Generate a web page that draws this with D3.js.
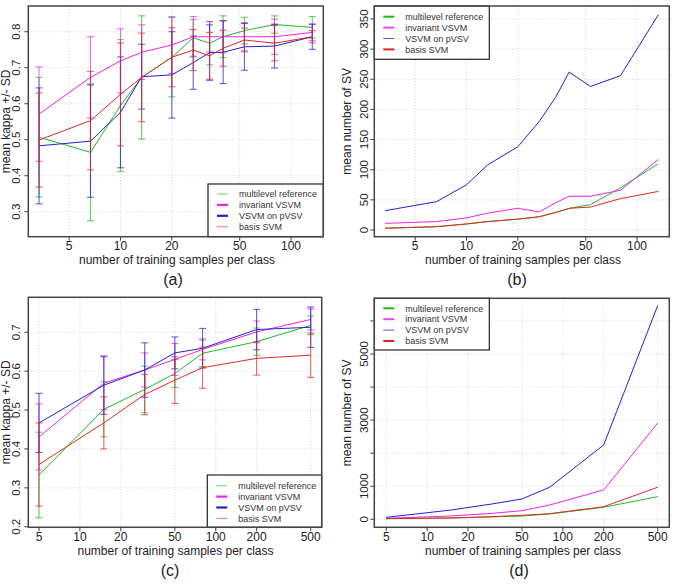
<!DOCTYPE html>
<html>
<head>
<meta charset="utf-8">
<script src="https://cdn.jsdelivr.net/npm/d3@7"></script>
<style>
  body { margin: 0; background: #fff; }
  text { font-family: "Liberation Sans", Arial, sans-serif; fill: #222; }
</style>
</head>
<body>
<script>
// ---- data ----
var seriesNames = ["multilevel reference", "invariant VSVM", "VSVM on pVSV", "basis SVM"];

// x values: samples per class
var xSmall = [3.33, 6.67, 10, 13.3, 20, 26.7, 33.3, 40, 53.3, 80, 133.3];
var xLarge = [5, 15, 30, 50, 80, 200, 500];

// (a) mean kappa and SD
var kappaA_multi    = [0.507, 0.465, 0.595, 0.673, 0.729, 0.783, 0.768, 0.786, 0.803, 0.820, 0.812];
var kappaA_multiSD  = [0.166, 0.190, 0.183, 0.171, 0.110, 0.051, 0.060, 0.058, 0.037, 0.024, 0.030];
var kappaA_inv      = [0.571, 0.673, 0.719, 0.743, 0.763, 0.786, 0.786, 0.786, 0.786, 0.786, 0.798];
var kappaA_invSD    = [0.131, 0.113, 0.089, 0.076, 0.079, 0.056, 0.042, 0.045, 0.039, 0.049, 0.023];
var kappaA_pvsv     = [0.483, 0.496, 0.576, 0.675, 0.680, 0.714, 0.742, 0.743, 0.758, 0.760, 0.786];
var kappaA_pvsvSD   = [0.161, 0.156, 0.154, 0.090, 0.120, 0.074, 0.077, 0.087, 0.065, 0.061, 0.035];
var kappaA_basis    = [0.499, 0.553, 0.626, 0.673, 0.729, 0.749, 0.733, 0.754, 0.777, 0.768, 0.786];
var kappaA_basisSD  = [0.131, 0.137, 0.143, 0.123, 0.082, 0.057, 0.065, 0.050, 0.033, 0.049, 0.017];

// (b) mean number of SV
var svB_multi = [3, 5.5, 10, 14, 18, 22, 29, 36, 42, 70, 110];
var svB_inv   = [11, 14, 20, 28, 36, 30, 45, 56, 56, 66, 117];
var svB_pvsv  = [32, 47, 75, 108, 138, 180, 220, 262, 238, 256, 357];
var svB_basis = [3, 5.5, 10, 14, 18, 22, 29, 36, 38, 52, 64];

// (c) mean kappa and SD
var kappaC_multi    = [0.333, 0.502, 0.553, 0.594, 0.646, 0.676, 0.718];
var kappaC_multiSD  = [0.110, 0.071, 0.060, 0.036, 0.034, 0.035, 0.024];
var kappaC_inv      = [0.431, 0.569, 0.603, 0.630, 0.656, 0.701, 0.733];
var kappaC_invSD    = [0.085, 0.068, 0.044, 0.041, 0.027, 0.028, 0.027];
var kappaC_pvsv     = [0.467, 0.564, 0.603, 0.647, 0.659, 0.707, 0.713];
var kappaC_pvsvSD   = [0.076, 0.075, 0.070, 0.041, 0.051, 0.052, 0.052];
var kappaC_basis    = [0.360, 0.467, 0.540, 0.577, 0.609, 0.633, 0.641];
var kappaC_basisSD  = [0.107, 0.067, 0.052, 0.060, 0.053, 0.043, 0.057];

// (d) mean number of SV
var svD_multi = [20, 40, 70, 100, 160, 364, 685];
var svD_inv   = [30, 100, 180, 260, 433, 888, 2909];
var svD_pvsv  = [60, 280, 463, 615, 970, 2250, 6464];
var svD_basis = [20, 40, 80, 120, 170, 382, 970];

// tick labels
var xTicksSmall = [5, 10, 20, 50, 100];
var xTicksLarge = [5, 10, 20, 50, 100, 200, 500];
var yTicksA = [0.3, 0.4, 0.5, 0.6, 0.7, 0.8];
var yTicksB = [0, 50, 100, 150, 200, 250, 300, 350];
var yTicksC = [0.2, 0.3, 0.4, 0.5, 0.6, 0.7];
var yTicksD = [0, 1000, 2000, 3000, 4000, 5000, 6000];
var yLabelsD = [0, 1000, 3000, 5000];

// ---- styling ----
var colors = ["#22bb22", "#ee22ee", "#2222cc", "#e02828"];
var legendKappa = [{c: "#80dd80", w: 1.2}, {c: "#ee22ee", w: 2.2}, {c: "#2222cc", w: 2.2}, {c: "#f08a8a", w: 1.2}];
var legendSV    = [{c: "#11c011", w: 2}, {c: "#ee44ee", w: 2}, {c: "#5555dd", w: 1}, {c: "#dd2222", w: 2}];

var svg = d3.select("body").append("svg")
    .attr("width", 675)
    .attr("height", 585);

function drawPanel(p) {
  var x = d3.scaleLog().domain(p.xDomain).range([p.left, p.right]);
  var y = d3.scaleLinear().domain(p.yDomain).range([p.bottom, p.top]);
  var g = svg.append("g");

  // grid
  g.selectAll(".vg").data(p.xTicks).enter().append("line")
      .attr("x1", d => x(d)).attr("x2", d => x(d))
      .attr("y1", p.top).attr("y2", p.bottom)
      .attr("stroke", "#d4d4d4").attr("stroke-dasharray", "1,2");
  g.selectAll(".hg").data(p.yTicks).enter().append("line")
      .attr("x1", p.left).attr("x2", p.right)
      .attr("y1", d => y(d)).attr("y2", d => y(d))
      .attr("stroke", "#d4d4d4").attr("stroke-dasharray", "1,2");

  // series
  var line = d3.line().x(d => x(d.x)).y(d => y(d.y));
  p.series.forEach(function(s, i) {
    var pts = p.xs.map((v, k) => ({x: v, y: s.values[k], sd: s.sd ? s.sd[k] : 0}));
    g.append("path").datum(pts)
        .attr("d", line)
        .attr("fill", "none")
        .attr("stroke", colors[i])
        .attr("stroke-width", 1);
    if (s.sd) {
      var eb = g.selectAll(".eb" + i).data(pts).enter().append("g")
          .attr("stroke", colors[i]).attr("stroke-opacity", 0.7).attr("stroke-width", 1.1);
      eb.append("line")
          .attr("x1", d => x(d.x)).attr("x2", d => x(d.x))
          .attr("y1", d => y(d.y - d.sd)).attr("y2", d => y(d.y + d.sd));
      eb.append("line")
          .attr("x1", d => x(d.x) - 3.5).attr("x2", d => x(d.x) + 3.5)
          .attr("y1", d => y(d.y + d.sd)).attr("y2", d => y(d.y + d.sd));
      eb.append("line")
          .attr("x1", d => x(d.x) - 3.5).attr("x2", d => x(d.x) + 3.5)
          .attr("y1", d => y(d.y - d.sd)).attr("y2", d => y(d.y - d.sd));
    }
  });

  // legend
  var L = p.legend;
  var lg = g.append("g");
  lg.append("rect")
      .attr("x", L.x0).attr("y", L.y0)
      .attr("width", L.x1 - L.x0).attr("height", L.y1 - L.y0)
      .attr("fill", "#fff").attr("stroke", "#222").attr("stroke-width", 1.2);
  seriesNames.forEach(function(name, i) {
    var ry = L.rowY + i * L.rowH;
    lg.append("line")
        .attr("x1", L.x0 + 9).attr("x2", L.x0 + 20)
        .attr("y1", ry).attr("y2", ry)
        .attr("stroke", L.styles[i].c).attr("stroke-width", L.styles[i].w);
    lg.append("text")
        .attr("x", L.x0 + 31).attr("y", ry + 3.2)
        .attr("font-size", "9px").style("fill", "#333")
        .text(name);
  });

  // box
  g.append("rect")
      .attr("x", p.left).attr("y", p.top)
      .attr("width", p.right - p.left).attr("height", p.bottom - p.top)
      .attr("fill", "none").attr("stroke", "#444").attr("stroke-width", 1.5);

  // x ticks
  g.selectAll(".xt").data(p.xTicks).enter().append("line")
      .attr("x1", d => x(d)).attr("x2", d => x(d))
      .attr("y1", p.bottom).attr("y2", p.bottom + 4)
      .attr("stroke", "#444");
  g.selectAll(".xl").data(p.xTicks).enter().append("text")
      .attr("x", d => x(d)).attr("y", p.bottom + 13.5)
      .attr("text-anchor", "middle").attr("font-size", "12px")
      .text(d => d);

  // y ticks
  g.selectAll(".yt").data(p.yTicks).enter().append("line")
      .attr("x1", p.left - 4).attr("x2", p.left)
      .attr("y1", d => y(d)).attr("y2", d => y(d))
      .attr("stroke", "#444");
  g.selectAll(".yl").data(p.yLabels).enter().append("text")
      .attr("transform", d => "translate(" + (p.left - p.yLabOff) + "," + y(d) + ") rotate(-90)")
      .attr("text-anchor", "middle").attr("font-size", "11.5px")
      .text(d => p.yFormat(d));

  // axis titles
  g.append("text")
      .attr("x", p.xTitleX).attr("y", p.bottom + 27.5)
      .attr("text-anchor", "middle").attr("font-size", "12px")
      .text("number of training samples per class");
  g.append("text")
      .attr("transform", "translate(" + (p.left - p.yTitleOff) + "," + ((p.top + p.bottom) / 2) + ") rotate(-90)")
      .attr("text-anchor", "middle").attr("font-size", "12px")
      .text(p.yTitle);

  // panel label
  g.append("text")
      .attr("x", p.tagX).attr("y", p.bottom + 48.5)
      .attr("text-anchor", "middle").attr("font-size", "16px")
      .text(p.tag);
}

var fmtKappa = d3.format(".1f");
var fmtInt = d3.format("d");

drawPanel({
  tag: "(a)", tagX: 173, xTitleX: 177,
  left: 28.3, right: 323.3, top: 6, bottom: 236.7,
  xDomain: [2.88, 154.6], yDomain: [0.2306, 0.8714],
  xs: xSmall, xTicks: xTicksSmall, yTicks: yTicksA, yLabels: yTicksA, yFormat: fmtKappa,
  yLabOff: 8.7, yTitleOff: 18.5, yTitle: "mean kappa +/- SD",
  series: [
    {values: kappaA_multi, sd: kappaA_multiSD},
    {values: kappaA_inv, sd: kappaA_invSD},
    {values: kappaA_pvsv, sd: kappaA_pvsvSD},
    {values: kappaA_basis, sd: kappaA_basisSD}
  ],
  legend: {x0: 208, x1: 323.3, y0: 184, y1: 236.7, rowY: 194, rowH: 10.9, styles: legendKappa}
});

drawPanel({
  tag: "(b)", tagX: 517, xTitleX: 523,
  left: 374.3, right: 669.3, top: 6, bottom: 236.7,
  xDomain: [2.88, 154.6], yDomain: [-11.1, 371.5],
  xs: xSmall, xTicks: xTicksSmall, yTicks: yTicksB, yLabels: yTicksB, yFormat: fmtInt,
  yLabOff: 6.8, yTitleOff: 23.5, yTitle: "mean number of SV",
  series: [
    {values: svB_multi}, {values: svB_inv}, {values: svB_pvsv}, {values: svB_basis}
  ],
  legend: {x0: 374.3, x1: 489.3, y0: 6, y1: 59.3, rowY: 16.7, rowH: 10.9, styles: legendSV}
});

drawPanel({
  tag: "(c)", tagX: 170, xTitleX: 175.5,
  left: 28.3, right: 321.7, top: 297.3, bottom: 527.3,
  xDomain: [4.17, 602.6], yDomain: [0.1985, 0.790],
  xs: xLarge, xTicks: xTicksLarge, yTicks: yTicksC, yLabels: yTicksC, yFormat: fmtKappa,
  yLabOff: 8.7, yTitleOff: 18.5, yTitle: "mean kappa +/- SD",
  series: [
    {values: kappaC_multi, sd: kappaC_multiSD},
    {values: kappaC_inv, sd: kappaC_invSD},
    {values: kappaC_pvsv, sd: kappaC_pvsvSD},
    {values: kappaC_basis, sd: kappaC_basisSD}
  ],
  legend: {x0: 207.3, x1: 321.7, y0: 475, y1: 527.3, rowY: 485.7, rowH: 10.9, styles: legendKappa}
});

drawPanel({
  tag: "(d)", tagX: 519, xTitleX: 523,
  left: 374.3, right: 669.3, top: 298.3, bottom: 527.3,
  xDomain: [4.08, 608.8], yDomain: [-242, 6685],
  xs: xLarge, xTicks: xTicksLarge, yTicks: yTicksD, yLabels: yLabelsD, yFormat: fmtInt,
  yLabOff: 6.8, yTitleOff: 23.5, yTitle: "mean number of SV",
  series: [
    {values: svD_multi}, {values: svD_inv}, {values: svD_pvsv}, {values: svD_basis}
  ],
  legend: {x0: 374.3, x1: 489.3, y0: 298.3, y1: 350, rowY: 308.3, rowH: 10.9, styles: legendSV}
});
</script>
</body>
</html>
